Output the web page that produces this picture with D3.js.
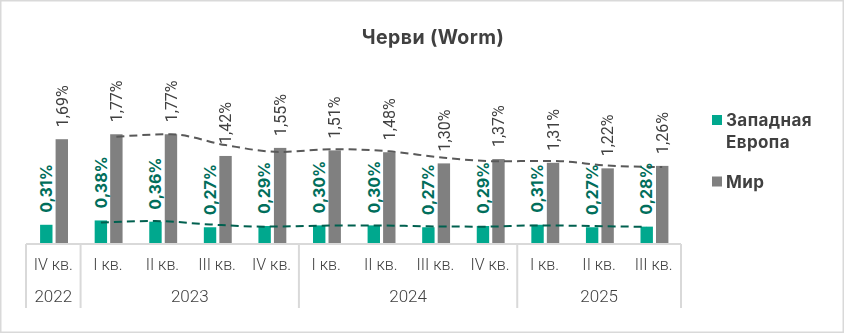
<!DOCTYPE html>
<html>
<head>
<meta charset="utf-8">
<script src="https://cdn.jsdelivr.net/npm/d3@7"></script>
<style>
  html, body { margin: 0; padding: 0; background: #fff; }
  svg { display: block; }
  .gray-text { filter: grayscale(1); }
</style>
</head>
<body>
<svg id="chart" width="844" height="333"></svg>
<script>
// Share of users attacked by worms, by quarter
const quarters = ["IV кв.", "I кв.", "II кв.", "III кв.", "IV кв.", "I кв.", "II кв.", "III кв.", "IV кв.", "I кв.", "II кв.", "III кв."];
const years = ["2022", "2023", "2023", "2023", "2023", "2024", "2024", "2024", "2024", "2025", "2025", "2025"];
const westEurope = [0.31, 0.38, 0.36, 0.27, 0.29, 0.30, 0.30, 0.27, 0.29, 0.31, 0.27, 0.28];
const world = [1.69, 1.77, 1.77, 1.42, 1.55, 1.51, 1.48, 1.30, 1.37, 1.31, 1.22, 1.26];
const seriesNames = ["Западная Европа", "Мир"];
const title = "Черви (Worm)";

const colors = { west: "#00a88e", world: "#808080" };
const labelColors = { west: "#006e5b", world: "#404040" };
const trendColors = { west: "#00604f", world: "#595959" };

const svg = d3.select("#chart");
const W = 844, H = 333;

// outer frame
svg.append("rect")
  .attr("x", 0.75).attr("y", 0.75)
  .attr("width", W - 1.5).attr("height", H - 1.5)
  .attr("fill", "#fff").attr("stroke", "#d9d9d9").attr("stroke-width", 1.5);

// title
svg.append("text")
  .attr("class", "gray-text")
  .attr("x", 433).attr("y", 44)
  .attr("text-anchor", "middle")
  .attr("font-family", "Inter, 'Noto Sans', sans-serif")
  .attr("font-weight", 700)
  .attr("font-size", 19.5)
  .attr("letter-spacing", 0.4)
  .attr("fill", "#404040")
  .text(title);

const idx = d3.range(quarters.length);
const x0 = d3.scaleBand().domain(idx).range([26, 681]).padding(0);
const x1 = d3.scaleBand().domain(["west", "world"]).range([-13.2, 14.7]).paddingInner(0.2);
const y = d3.scaleLinear().domain([0, 2.5]).range([244, 244 - 2.5 * 62]);

const center = i => x0(i) + x0.bandwidth() / 2;
const fmt = v => d3.format(".2f")(v).replace(".", ",") + "%";

const series = [
  { key: "west", values: westEurope },
  { key: "world", values: world }
];

// bars
const g = svg.append("g");
series.forEach(s => {
  g.selectAll(null)
    .data(s.values)
    .join("rect")
    .attr("x", (d, i) => center(i) + x1(s.key))
    .attr("y", d => y(d))
    .attr("width", x1.bandwidth())
    .attr("height", d => y(0) - y(d))
    .attr("fill", colors[s.key]);
});

// two-period moving average trend lines, one per series
series.forEach(s => {
  const pts = s.values.slice(1).map((v, k) => {
    const i = k + 1;
    return [center(i) + x1(s.key) + x1.bandwidth() / 2, y((s.values[i] + s.values[i - 1]) / 2)];
  });
  svg.append("path")
    .attr("d", d3.line().curve(d3.curveMonotoneX)(pts))
    .attr("fill", "none")
    .attr("stroke", trendColors[s.key])
    .attr("stroke-width", 2)
    .attr("stroke-dasharray", "8,5");
});

// value labels, rotated
series.forEach(s => {
  const bold = s.key === "west";
  svg.append("g")
    .attr("class", bold ? null : "gray-text")
    .selectAll("text")
    .data(s.values)
    .join("text")
    .attr("transform", (d, i) => {
      const cx = center(i) + x1(s.key) + x1.bandwidth() / 2;
      return `translate(${cx},${y(d) - 12}) rotate(-90)`;
    })
    .attr("dy", "0.36em")
    .attr("font-family", bold ? "Inter, 'Noto Sans', sans-serif" : "Roboto, 'Noto Sans', sans-serif")
    .attr("font-weight", bold ? 700 : 400)
    .attr("font-size", 16)
    .attr("fill", labelColors[s.key])
    .text(d => fmt(d));
});

// category axis
const axisColor = "#d9d9d9";
svg.append("line")
  .attr("x1", x0.range()[0]).attr("x2", x0.range()[1])
  .attr("y1", 244).attr("y2", 244)
  .attr("stroke", axisColor).attr("stroke-width", 2);

svg.append("g")
  .attr("class", "gray-text")
  .selectAll("text")
  .data(quarters)
  .join("text")
  .attr("x", (d, i) => center(i))
  .attr("y", 270)
  .attr("text-anchor", "middle")
  .attr("font-family", "Roboto, 'Noto Sans', sans-serif")
  .attr("font-weight", 300)
  .attr("font-size", 16)
  .attr("fill", "#404040")
  .text(d => d);

// year groups
const groups = d3.groups(idx, i => years[i]).map(([yr, is]) => ({ yr, first: d3.min(is), last: d3.max(is) }));
const bounds = [x0(groups[0].first)].concat(groups.map(gr => x0(gr.last) + x0.bandwidth()));
svg.append("g").selectAll("line")
  .data(bounds)
  .join("line")
  .attr("x1", d => d).attr("x2", d => d)
  .attr("y1", 244).attr("y2", 308)
  .attr("stroke", axisColor).attr("stroke-width", 2);

svg.append("g")
  .attr("class", "gray-text")
  .selectAll("text")
  .data(groups)
  .join("text")
  .attr("x", d => (x0(d.first) + x0(d.last) + x0.bandwidth()) / 2)
  .attr("y", 302)
  .attr("text-anchor", "middle")
  .attr("font-family", "Roboto, 'Noto Sans', sans-serif")
  .attr("font-weight", 300)
  .attr("font-size", 17)
  .attr("fill", "#404040")
  .text(d => d.yr);

// legend
const legend = svg.append("g").attr("transform", "translate(712,0)");
const legendItems = [
  { key: "west", lines: ["Западная", "Европа"], y: 115 },
  { key: "world", lines: ["Мир"], y: 176.5 }
];
legendItems.forEach(it => {
  legend.append("rect")
    .attr("x", 0).attr("y", it.y)
    .attr("width", 10).attr("height", 10)
    .attr("fill", colors[it.key]);
  const t = legend.append("text")
    .attr("class", "gray-text")
    .attr("x", 14).attr("y", it.y + 11)
    .attr("font-family", "Inter, 'Noto Sans', sans-serif")
    .attr("font-weight", 700)
    .attr("font-size", 17)
    .attr("letter-spacing", 0.4)
    .attr("fill", "#404040");
  it.lines.forEach((ln, k) => {
    t.append("tspan").attr("x", 14).attr("dy", k === 0 ? 0 : 21.5).text(ln);
  });
});
</script>
</body>
</html>
